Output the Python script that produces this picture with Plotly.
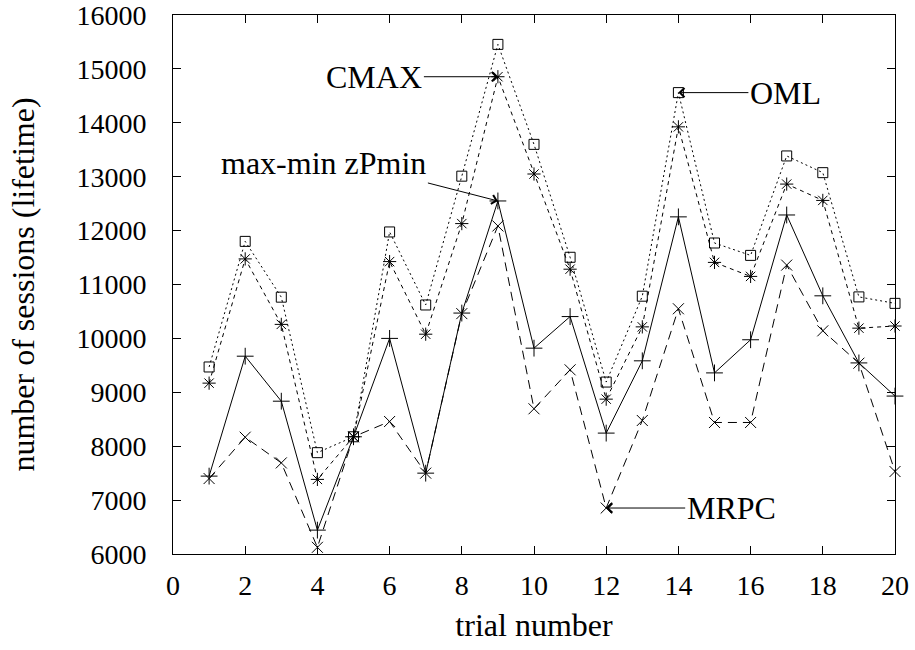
import plotly.graph_objects as go

trials = list(range(1, 21))
oml = [9470, 11800, 10765, 7880, 8175, 11975, 10620, 13010, 15455, 13600,
       11505, 9190, 10783, 14560, 11770, 11540, 13385, 13075, 10770, 10650]
cmax = [9170, 11475, 10260, 7384, 8175, 11425, 10078, 12130, 14855, 13050,
        11284, 8873, 10214, 13925, 11410, 11150, 12863, 12560, 10190, 10230]
zpmin = [7445, 9670, 8835, 6443, 8175, 10000, 7500, 10470, 12550, 9819,
         10405, 8243, 9584, 12255, 9360, 9975, 12290, 10790, 9545, 8930]
mrpc = [7400, 8167, 7690, 6124, 8175, 8458, 7500, 10460, 12086, 8694,
        9417, 6853, 8477, 10550, 8440, 8440, 11360, 10140, 9540, 7530]

x_ticks = list(range(0, 21, 2))
y_ticks = list(range(6000, 16001, 1000))

FONT = "Liberation Serif"
FS = 32
TFS = 28

fig = go.Figure()
series = [
    ("OML", oml, "2px,3px", "square-open", 10),
    ("CMAX", cmax, "4px,4px", "asterisk-open", 11),
    ("max-min zPmin", zpmin, "solid", "cross-thin-open", 12),
    ("MRPC", mrpc, "9px,6px", "x-thin-open", 11),
]
for name, vals, dash, sym, size in series:
    fig.add_trace(go.Scatter(
        x=trials, y=vals, name=name, mode="lines+markers",
        line=dict(color="black", width=1, dash=dash),
        marker=dict(symbol=sym, size=size, color="black",
                    line=dict(color="black", width=1)),
        showlegend=False, cliponaxis=False,
    ))

def ann(text, idx, vals, ax, ay, xanchor, yanchor="middle"):
    fig.add_annotation(
        x=trials[idx], y=vals[idx], text=text, showarrow=True,
        ax=ax, ay=ay, xanchor=xanchor, yanchor=yanchor,
        arrowhead=4, arrowsize=1.8, arrowwidth=1, arrowcolor="black",
        standoff=0, startstandoff=0,
        font=dict(family=FONT, size=FS, color="black"),
    )

ann("CMAX", 8, cmax, -74, 0, "right")
ann("max-min zPmin", 8, zpmin, -70, -18, "right", "bottom")
ann("OML", 13, oml, 70, 0, "left")
ann("MRPC", 11, mrpc, 79, 0, "left")

axis_common = dict(
    showline=True, linecolor="black", linewidth=1, mirror="allticks",
    ticks="inside", ticklen=8, tickwidth=1, tickcolor="black",
    showgrid=False, zeroline=False, automargin=False,
    ticklabeloverflow="allow",
    tickfont=dict(family=FONT, size=TFS, color="black"),
)

fig.update_xaxes(range=[0, 20], tickvals=x_ticks, tickformat="d",
                 ticklabelstandoff=6,
                 title=dict(text="trial number",
                            font=dict(family=FONT, size=FS, color="black"),
                            standoff=14),
                 **axis_common)
fig.update_yaxes(range=[6000, 16000], tickvals=y_ticks, tickformat="d",
                 ticklabelstandoff=20,
                 title=dict(text="number of sessions (lifetime)",
                            font=dict(family=FONT, size=FS, color="black"),
                            standoff=32),
                 **axis_common)

fig.update_layout(
    width=915, height=650,
    margin=dict(l=173, r=20, t=15, b=96),
    plot_bgcolor="white", paper_bgcolor="white",
)

fig.write_html("out.html")
